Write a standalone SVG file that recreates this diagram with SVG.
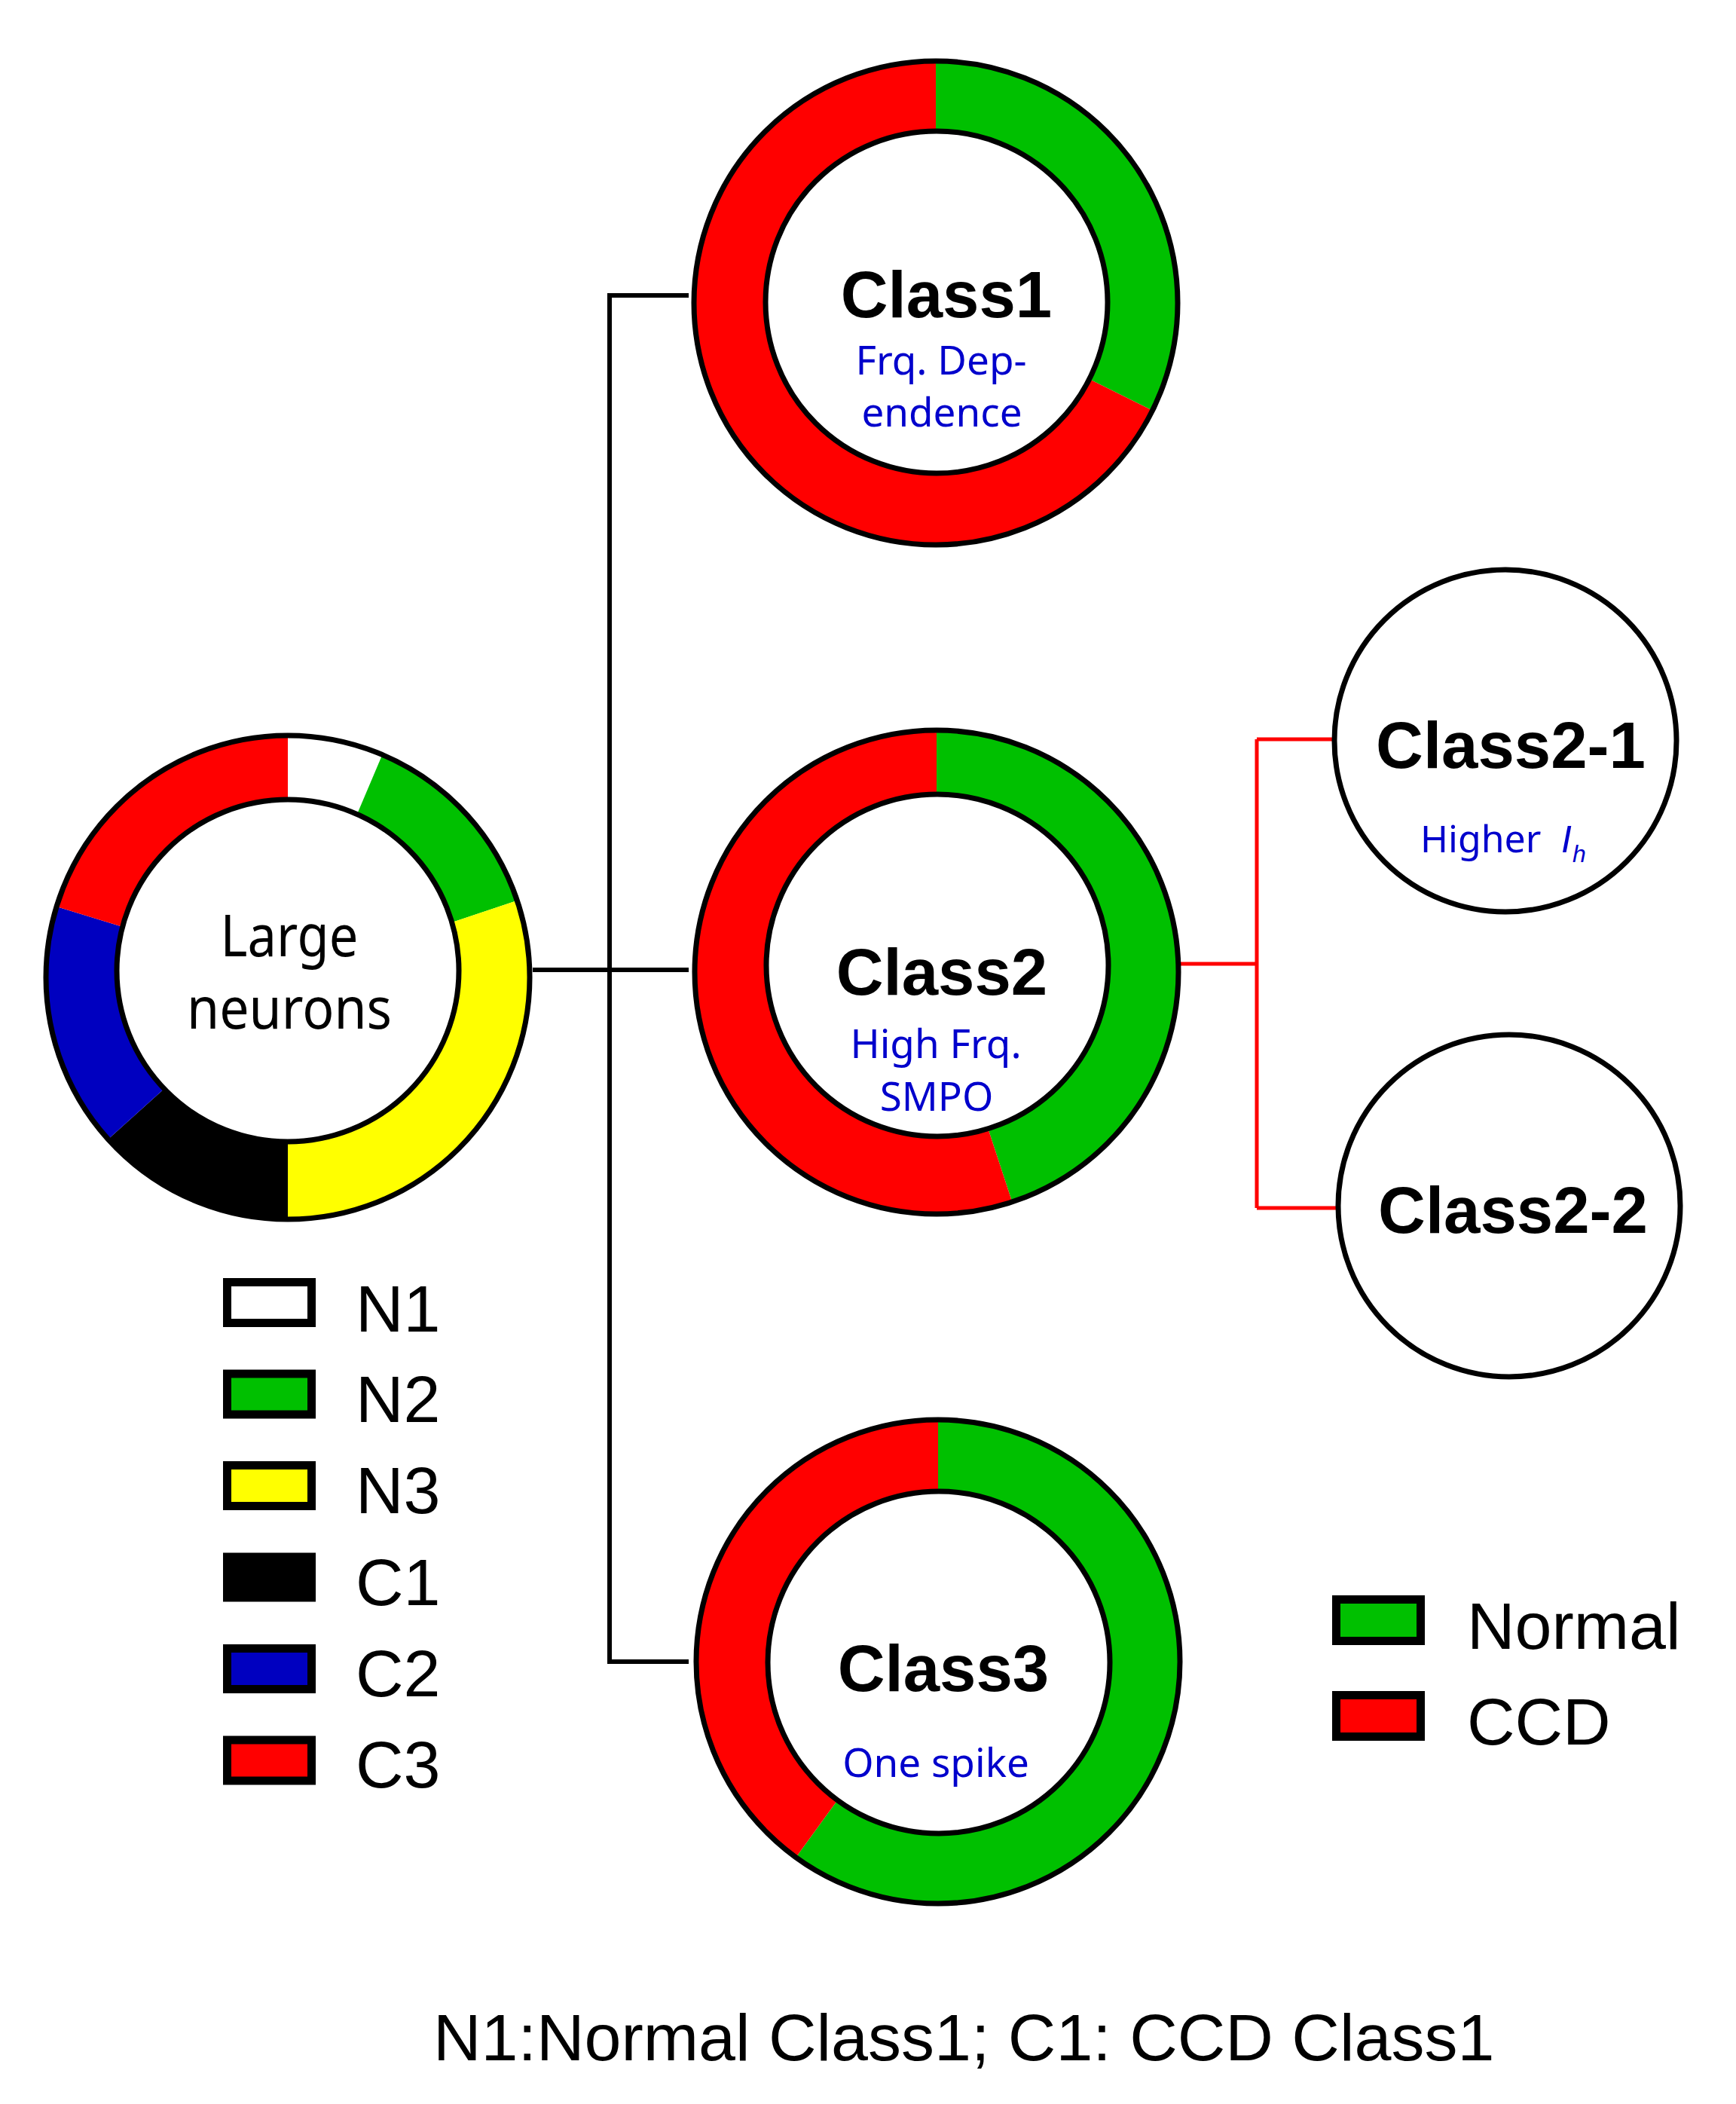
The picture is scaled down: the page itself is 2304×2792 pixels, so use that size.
<svg xmlns="http://www.w3.org/2000/svg" width="2304" height="2792" viewBox="0 0 2304 2792">
<style>
.ring{fill:none;stroke:#000;stroke-width:7}
.hole{fill:#fff;stroke:#000;stroke-width:7}
.g{fill:#00C000}.r{fill:#FF0000}.y{fill:#FFFF00}.k{fill:#000}.b{fill:#0000C0}.w{fill:#fff}
.title{font-family:"Liberation Sans",Arial,sans-serif;font-weight:bold;font-size:87px;fill:#000;text-anchor:middle}
.sub{font-family:"Noto Sans","DejaVu Sans",sans-serif;font-size:53px;fill:#0000CC;text-anchor:middle}
.subl{font-family:"Noto Sans","DejaVu Sans",sans-serif;font-size:50px;fill:#0000CC;text-anchor:start}
.ital{font-family:"Liberation Sans",Arial,sans-serif;font-style:italic}
.big{font-family:"Noto Sans","DejaVu Sans",sans-serif;font-size:76px;fill:#000;text-anchor:middle}
.leg{font-family:"Liberation Sans",Arial,sans-serif;font-size:88px;fill:#000}
.box{stroke:#000;stroke-width:11}
.conn{fill:none;stroke:#000;stroke-width:6}
.conr{fill:none;stroke:#FF0000;stroke-width:5}
</style>
<rect width="2304" height="2792" fill="#fff"/>
<g id="connectors">
<path class="conn" d="M914 392 H809 V2205 H914 M707 1287 H914"/>
<path class="conr" d="M1565 1279 H1668 M1668 981 V1603 M1668 981 H1772 M1668 1603 H1777"/>
</g>
<g id="large-neurons">
<path class="w" d="M382 1297 L382 976 A321 321 0 0 1 507.4 1001.5 Z"/>
<path class="g" d="M382 1297 L507.4 1001.5 A321 321 0 0 1 686.4 1195.1 Z"/>
<path class="y" d="M382 1297 L686.4 1195.1 A321 321 0 0 1 382 1618 Z"/>
<path class="k" d="M382 1297 L382 1618 A321 321 0 0 1 143.5 1511.8 Z"/>
<path class="b" d="M382 1297 L143.5 1511.8 A321 321 0 0 1 75 1203.1 Z"/>
<path class="r" d="M382 1297 L75 1203.1 A321 321 0 0 1 382 976 Z"/>
<circle class="ring" cx="382" cy="1297" r="321"/>
<circle class="hole" cx="382" cy="1288" r="227"/>
<text class="big" x="384" y="1269" textLength="183" lengthAdjust="spacingAndGlyphs">Large</text>
<text class="big" x="384" y="1365" textLength="272" lengthAdjust="spacingAndGlyphs">neurons</text>
</g>
<g id="class1">
<path class="g" d="M1242 402 L1242 81 A321 321 0 0 1 1529.5 544.7 Z"/>
<path class="r" d="M1242 402 L1529.5 544.7 A321 321 0 1 1 1242 81 Z"/>
<circle class="ring" cx="1242" cy="402" r="321"/>
<circle class="hole" cx="1243" cy="401" r="227"/>
<text class="title" x="1256" y="421">Class1</text>
<text class="sub" x="1249" y="497">Frq. Dep-</text>
<text class="sub" x="1250" y="566">endence</text>
</g>
<g id="class2">
<path class="g" d="M1243 1290 L1243 969 A321 321 0 0 1 1343.3 1594.9 Z"/>
<path class="r" d="M1243 1290 L1343.3 1594.9 A321 321 0 1 1 1243 969 Z"/>
<circle class="ring" cx="1243" cy="1290" r="321"/>
<circle class="hole" cx="1244" cy="1281" r="227"/>
<text class="title" x="1250" y="1320">Class2</text>
<text class="sub" x="1242" y="1404">High Frq.</text>
<text class="sub" x="1243" y="1474">SMPO</text>
</g>
<g id="class3">
<path class="g" d="M1245 2205 L1245 1884 A321 321 0 1 1 1056.3 2464.7 Z"/>
<path class="r" d="M1245 2205 L1056.3 2464.7 A321 321 0 0 1 1245 1884 Z"/>
<circle class="ring" cx="1245" cy="2205" r="321"/>
<circle class="hole" cx="1246" cy="2206" r="227"/>
<text class="title" x="1252" y="2244">Class3</text>
<text class="sub" x="1242" y="2358">One spike</text>
</g>
<g id="class2-1">
<circle class="hole" cx="1998" cy="983" r="227"/>
<text class="title" x="2005" y="1019">Class2-1</text>
<text class="subl" x="1885" y="1131">Higher <tspan class="ital" x="2072">I</tspan><tspan class="ital" x="2087" dy="13" font-size="32">h</tspan></text>
</g>
<g id="class2-2">
<circle class="hole" cx="2003" cy="1600" r="227"/>
<text class="title" x="2008" y="1636">Class2-2</text>
</g>
<g id="legend-types">
<rect class="box w" x="301.5" y="1701.5" width="112" height="54"/>
<rect class="box g" x="301.5" y="1823" width="112" height="54"/>
<rect class="box y" x="301.5" y="1944.5" width="112" height="54"/>
<rect class="box k" x="301.5" y="2066" width="112" height="54"/>
<rect class="box b" x="301.5" y="2187.5" width="112" height="54"/>
<rect class="box r" x="301.5" y="2309" width="112" height="54"/>
<text class="leg" x="472" y="1767">N1</text>
<text class="leg" x="472" y="1887">N2</text>
<text class="leg" x="472" y="2008">N3</text>
<text class="leg" x="472" y="2130">C1</text>
<text class="leg" x="472" y="2251">C2</text>
<text class="leg" x="472" y="2372">C3</text>
</g>
<g id="legend-groups">
<rect class="box g" x="1773.5" y="2122.5" width="112" height="55"/>
<rect class="box r" x="1773.5" y="2249.5" width="112" height="55"/>
<text class="leg" x="1947" y="2188">Normal</text>
<text class="leg" x="1947" y="2315">CCD</text>
</g>
<g id="footnote">
<text class="leg" x="575" y="2734" font-size="87">N1:Normal Class1; C1: CCD Class1</text>
</g>
</svg>
